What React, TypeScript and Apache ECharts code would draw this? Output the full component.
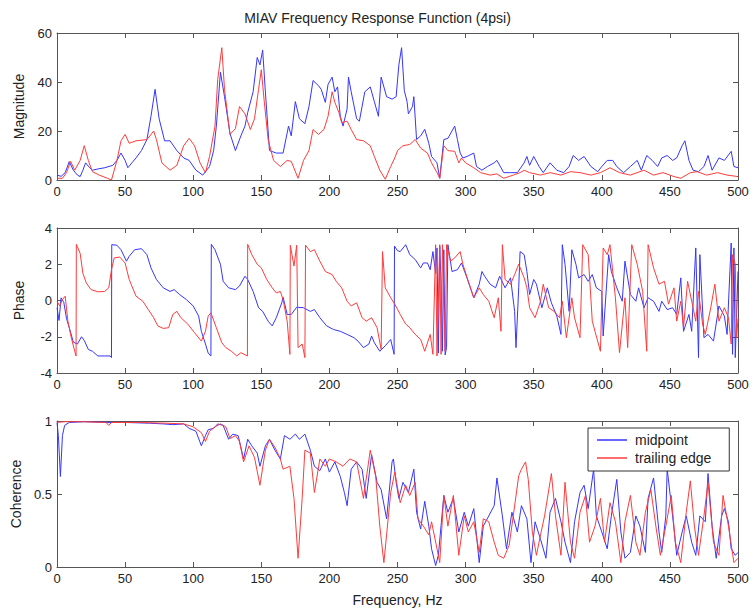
import React, { useEffect, useRef } from "react";
import * as echarts from "echarts";

const xTicks = [0, 50, 100, 150, 200, 250, 300, 350, 400, 450, 500];
const seriesNames = ["midpoint", "trailing edge"];

const magMid: number[][] = [[0,2],[3,1.5],[6,3],[9,7.5],[12,4],[15,2],[17,1.4],[19,4],[21,7],[24,5],[26,4],[30,4.5],[35,5],[41,6],[44,8],[47,11],[50,8],[52,5],[55,7],[58,9],[62,12],[66,16.5],[69,26],[72,37],[75,25],[79,16],[83,16],[88,12],[93,9],[97,8],[102,4],[107,2],[112,5.5],[115,12],[117,22],[120,44],[123,34],[127,19],[131,12],[135,18],[138,22],[140,27.5],[144,36],[147,50],[149,47],[151,53],[153,36],[156,12],[161,11],[166,11],[170,22],[172,18],[175,32],[178,25],[182,23],[185,30],[188,40.6],[192,38.5],[194,37],[197,31.7],[199,39],[202,42],[204,36],[206,38],[208,26],[210,22],[213,29],[214,42],[216,36],[220,25],[222,24],[226,36],[230,38],[233,32],[236,26],[238,42],[242,34],[246,33],[249,34],[251,47],[253,54],[255,36.5],[257,32],[258,27],[261,30],[262,34],[264,16.5],[267,18],[270,20.7],[273,15],[275,9.6],[279,7],[281,0.7],[284,16.5],[287,17],[292,22],[294,16.5],[296,11],[298,9],[301,9.6],[306,11],[308,5.5],[312,4],[316,5.5],[321,7],[323,8],[328,3],[333,3],[338,3],[343,7],[345,9.6],[347,6],[350,9.6],[354,5.5],[357,3],[362,7],[367,4],[372,3],[376,5.5],[379,10],[383,8],[387,9.6],[392,5.5],[397,3.4],[400,5.5],[404,8],[408,8],[411,5.5],[416,3],[421,5.5],[426,8],[429,4],[433,10],[437,8],[441,5.5],[444,9],[448,10],[452,8],[455,9],[459,14],[461,16],[464,8],[467,4],[471,3.4],[475,5.5],[478,10],[481,4],[486,9],[490,8],[495,11.7],[497,5.5],[500,5]];

const magTrail: number[][] = [[0,0.7],[4,0.7],[7,3],[10,7.6],[13,4],[17,8],[20,14],[23,8],[26,3.4],[31,2],[37,0.7],[40,0],[44,8],[47,16],[50,18.6],[53,15],[58,16],[66,16.5],[71,20],[73,16.5],[77,7],[83,4],[88,6],[93,14],[97,17],[101,14],[105,7],[109,3],[112,9.6],[116,22],[118,41],[121,54],[123,37],[127,18.6],[131,21],[134,30],[138,27],[142,20.6],[145,25],[148,37],[150,45],[152,33],[155,16.5],[159,8],[164,5.5],[169,8],[172,7.6],[177,0.7],[181,8],[185,12],[188,20.6],[192,18.6],[196,20.6],[199,26],[202,36],[204,31.7],[207,27.5],[209,23.4],[213,24],[216,20.6],[220,16.5],[225,16],[230,14],[233,9.6],[237,4],[241,0.3],[245,5.5],[248,9],[250,12],[254,14],[259,14.5],[263,16.5],[267,13],[272,11],[275,7],[279,3],[281,0.7],[284,14],[287,12],[292,11.7],[295,7],[297,9],[300,7],[306,5],[311,3],[318,2],[323,2.5],[328,0.7],[335,2],[340,3],[343,4],[347,3],[355,2],[362,3],[370,2],[377,3.4],[384,3],[392,2],[399,3],[406,5],[413,3],[421,2],[431,4],[438,2],[445,3],[453,1.4],[458,0.7],[465,3],[470,3.4],[477,2],[485,3],[492,2],[500,1.4]];

const phaseMid: number[][] = [[0,-0.4],[1.5,-1.1],[3,0.15],[5,-0.1],[7,-1],[9,-1.5],[12,-2.3],[15,-2.4],[18,-2],[20,-2.2],[23,-2.7],[26,-2.8],[30,-3.06],[35,-3.06],[39,-3.06],[40,-3.15],[40.2,3.08],[44,3.05],[47,2.8],[51,2.17],[53,2.44],[57,2.8],[62,2.86],[66,2.53],[69,1.8],[73,1.16],[78,0.7],[83,0.5],[86,0.6],[90,0.33],[95,0.05],[100,-0.3],[104,-0.86],[106,-1.7],[109,-2.4],[111,-2.9],[113,-3.06],[113.3,3.1],[116,2.8],[120,2.0],[122,1.06],[126,0.7],[131,0.6],[134,0.8],[138,1.34],[140,1.16],[144,0.5],[148,-0.4],[151,-0.6],[155,-1.14],[158,-1.4],[161,-0.95],[165,-0.13],[166,0.18],[169,-0.77],[172,-0.77],[176,-0.37],[181,-0.4],[186,-0.6],[189,-0.5],[193,-0.95],[198,-1.4],[203,-1.6],[208,-1.7],[213,-1.87],[218,-2.05],[221,-2.24],[225,-2.6],[229,-2.4],[231,-1.96],[233,-2.33],[237,-2.8],[241,-2.5],[245,-2.15],[247.5,-2.97],[247.8,3.0],[250,2.75],[252,2.7],[256,3.08],[259,2.53],[263,2.26],[267,1.8],[269,2.07],[272,2.07],[274,1.7],[276,2.7],[278,1.5],[279,2.9],[280,-2.9],[281,3],[282,1.0],[283,-2.8],[284,2.8],[285,-3.0],[286,-2.6],[287,3.08],[290,1.6],[294,1.7],[297,2.07],[301,1.25],[306,0.15],[310,0.9],[312,1.6],[314,1.34],[318,0.9],[322,0.7],[325,1.34],[329,0.7],[333,1.25],[336,-0.6],[337,-2.6],[339,0.7],[340,2.7],[343,2.53],[345,1.6],[347,0.33],[350,1.16],[352,0.9],[356,-0.4],[360,0.7],[363,-0.13],[367,-0.86],[370,-1.87],[371,3.08],[373,2.0],[376,-0.6],[378,2.8],[381,2.0],[383,1.25],[387,1.43],[390,1.06],[393,1.43],[396,0.7],[400,0.5],[401,-1.96],[405,2.53],[407,1.6],[411,0.7],[415,-0.04],[417,2.17],[421,0.33],[425,-0.04],[427,0.7],[431,-0.4],[434,0.15],[438,-0.04],[442,-0.6],[444,-0.04],[448,-0.5],[452,-0.4],[455,-0.77],[458,1.25],[460,-1.7],[464,-0.77],[466,-1.7],[469,2.9],[471,-3.15],[472,2.53],[475,-2.05],[478,-1.87],[482,-2.24],[486,-0.3],[490,-0.86],[492,-1.87],[495,3.17],[496,-2.97],[497,2.9],[498,-3.15],[500,1.6]];

const phaseTrail: number[][] = [[0,-0.04],[2,-0.3],[4,0.05],[6,0.24],[8,-1.14],[10.5,-2.05],[13,-2.8],[14,-3.06],[14.2,3.1],[17,2.6],[19,1.5],[21.5,0.97],[25,0.6],[30,0.48],[35,0.5],[38,0.7],[40,1.7],[42,2.35],[46,2.4],[50,2.07],[53,1.16],[58,0.24],[63,-0.04],[67,-0.5],[71,-0.95],[74,-1.4],[78,-1.54],[82,-1.5],[85,-0.77],[88,-0.6],[91,-0.95],[96,-1.3],[101,-1.78],[106,-2.24],[109,-1.7],[111,-0.86],[113,-0.68],[117,-1.5],[121,-2.33],[124,-2.6],[128,-2.8],[132,-3.06],[135,-2.88],[139.8,-3.06],[140,3.1],[143,2.53],[147,2.0],[150,1.8],[154,1.16],[158,0.7],[161,0.42],[164,0.5],[166,0.05],[169,-1.14],[171,-2.97],[171.3,3.05],[174,1.9],[176,3.05],[177,-2.6],[180,-2.4],[182,-3.15],[182.5,3.05],[186,2.7],[189,2.8],[193,2.17],[197,1.6],[202,1.43],[205,1.06],[209,0.7],[213,-0.04],[216,-0.3],[220,-0.13],[224,-0.95],[227,-1.14],[231,-0.95],[235,-1.5],[238,-2.7],[239,2.7],[241,0.7],[245,0.15],[248,-0.2],[252,-0.77],[256,-1.3],[259,-1.5],[263,-1.87],[267,-2.15],[270,-2.8],[274,-1.87],[276,-2.97],[278,3.08],[279,-3.06],[281,3.08],[282,-2.97],[283,3.08],[285,-2.8],[286,3.08],[289,2.17],[292,2.35],[296,2.7],[298,2.0],[302,1.06],[306,0.15],[310,0.7],[313,0.33],[317,-0.04],[321,-0.95],[324,0.15],[326,-1.7],[327,3.08],[329,1.16],[333,0.9],[336,1.43],[339,2.0],[343,1.25],[345,0.7],[347,-0.4],[351,-0.95],[355,-0.04],[357,0.9],[361,-0.4],[365,-0.6],[369,-0.95],[371,-0.04],[374,-2.05],[378,0.15],[380,-0.95],[384,-2.05],[386,3.08],[390,2.53],[393,-1.14],[395,-1.7],[399,-2.8],[401,2.9],[404,2.53],[406,3.08],[410,0.15],[413,-2.88],[417,0.15],[419,-2.6],[422,3.08],[426,2.0],[430,0.5],[433,-2.8],[434,3.08],[438,1.8],[442,0.9],[446,1.06],[449,-0.2],[453,0.7],[455,-1.14],[458,-0.04],[460,-1.5],[463,1.06],[466,-0.04],[469,-1.14],[471,0.5],[474,-1.3],[476,-1.87],[480,-0.4],[483,0.9],[486,-1.14],[490,-0.4],[493,-0.95],[495,-2.4],[496,2.53],[498,2.0],[499,-2.05],[500,-1.0]];

const cohMid: number[][] = [[0,0.99],[1,0.9],[2.5,0.62],[4,0.9],[5.6,0.97],[9,0.99],[20,0.995],[39,0.99],[50,0.99],[68,0.985],[78,0.98],[85,0.975],[93,0.98],[97,0.95],[102,0.93],[106,0.83],[109,0.9],[111,0.94],[115,0.95],[118,0.98],[122,0.97],[126,0.875],[129,0.91],[133,0.9],[137,0.74],[140,0.875],[143,0.83],[147,0.78],[149,0.69],[153,0.83],[156,0.875],[160,0.8],[164,0.74],[167,0.9],[171,0.875],[175,0.91],[178,0.875],[182,0.91],[186,0.8],[189,0.69],[193,0.66],[197,0.74],[200,0.65],[204,0.72],[208,0.62],[211,0.51],[213,0.42],[216,0.67],[220,0.72],[224,0.67],[227,0.47],[231,0.77],[235,0.58],[238,0.53],[242,0.33],[246,0.72],[247,0.74],[249,0.58],[251,0.47],[254,0.58],[258,0.51],[262,0.67],[264,0.375],[267,0.26],[270,0.45],[273,0.28],[275,0.125],[278,0.01],[280,0.08],[284,0.49],[287,0.375],[291,0.47],[295,0.24],[299,0.375],[302,0.28],[306,0.4],[310,0.03],[313,0.28],[317,0.35],[321,0.42],[323,0.61],[327,0.35],[330,0.125],[334,0.375],[338,0.24],[341,0.42],[345,0.33],[348,0.03],[351,0.31],[355,0.19],[359,0.06],[362,0.375],[366,0.47],[370,0.31],[373,0.17],[377,0.03],[380,0.31],[384,0.51],[387,0.56],[390,0.4],[394,0.67],[396,0.35],[400,0.24],[404,0.125],[407,0.35],[411,0.6],[414,0.24],[417,0.06],[421,0.1],[425,0.35],[428,0.28],[432,0.1],[434,0.47],[438,0.61],[442,0.24],[444,0.1],[447,0.35],[448,0.67],[452,0.35],[455,0.08],[459,0.24],[462,0.35],[466,0.17],[469,0.08],[472,0.35],[476,0.31],[478,0.64],[481,0.28],[484,0.06],[488,0.35],[490,0.4],[493,0.31],[495,0.125],[498,0.08],[500,0.1]];

const cohTrail: number[][] = [[0,0.99],[5,0.995],[20,0.995],[36,0.99],[38,0.97],[40,0.99],[60,0.99],[80,0.985],[93,0.98],[100,0.96],[106,0.92],[109,0.86],[112,0.93],[116,0.96],[120,0.98],[124,0.96],[127,0.88],[131,0.9],[134,0.86],[137,0.72],[141,0.83],[145,0.75],[149,0.56],[153,0.8],[156,0.875],[160,0.82],[164,0.74],[166,0.67],[171,0.69],[174,0.47],[177,0.06],[180,0.47],[182,0.8],[186,0.78],[189,0.51],[193,0.74],[197,0.69],[200,0.74],[205,0.72],[210,0.69],[215,0.74],[220,0.72],[225,0.47],[230,0.8],[234,0.62],[237,0.28],[240,0.03],[242,0.22],[245,0.51],[248,0.65],[252,0.44],[256,0.56],[259,0.49],[263,0.58],[265,0.33],[269,0.28],[273,0.22],[275,0.31],[279,0.125],[281,0.03],[284,0.49],[287,0.28],[291,0.49],[295,0.08],[299,0.35],[302,0.24],[306,0.31],[310,0.1],[313,0.33],[317,0.31],[321,0.17],[324,0.08],[328,0.06],[332,0.15],[335,0.35],[339,0.625],[341,0.67],[344,0.72],[346,0.6],[349,0.24],[352,0.08],[355,0.22],[358,0.35],[363,0.64],[366,0.35],[370,0.08],[373,0.58],[377,0.17],[380,0.06],[384,0.375],[388,0.49],[391,0.17],[395,0.28],[399,0.47],[402,0.17],[406,0.44],[410,0.31],[414,0.03],[417,0.31],[421,0.49],[425,0.17],[428,0.08],[432,0.375],[436,0.53],[440,0.26],[443,0.08],[447,0.28],[451,0.49],[454,0.17],[458,0.03],[462,0.375],[465,0.59],[468,0.28],[471,0.08],[475,0.35],[478,0.58],[482,0.17],[486,0.08],[489,0.49],[493,0.28],[497,0.03],[500,0.06]];

const panels = [
  { name: "Magnitude", min: 0, max: 60, interval: 20, mid: magMid, trail: magTrail },
  { name: "Phase", min: -4, max: 4, interval: 2, mid: phaseMid, trail: phaseTrail },
  { name: "Coherence", min: 0, max: 1, interval: 0.5, mid: cohMid, trail: cohTrail },
];

const FONT = "Liberation Sans";
const AXC = "#555";
const TXT = "#222";
const BLUE = "#3535ff";
const RED = "#ff3b3b";

export default function App() {
  const ref = useRef<HTMLDivElement>(null);
  useEffect(() => {
    if (!ref.current) return;
    const chart = echarts.init(ref.current, null, { renderer: "svg" });
    const gridPos = [
      { left: 57, top: 33, width: 681, height: 147 },
      { left: 57, top: 228, width: 681, height: 145 },
      { left: 57, top: 421, width: 681, height: 146 },
    ];
    const xAxis: any[] = [];
    const yAxis: any[] = [];
    const series: any[] = [];
    panels.forEach((p, i) => {
      const tick = { show: true, inside: true, length: 5, lineStyle: { color: AXC } };
      xAxis.push({
        type: "value", gridIndex: i, min: xTicks[0], max: xTicks[xTicks.length - 1], interval: 50,
        position: "bottom",
        axisLine: { show: true, onZero: false, lineStyle: { color: AXC } },
        axisTick: tick, splitLine: { show: false },
        axisLabel: { color: TXT, fontFamily: FONT, fontSize: 13, margin: 5 },
        name: i === 2 ? "Frequency, Hz" : "", nameLocation: "middle", nameGap: 26,
        nameTextStyle: { color: TXT, fontFamily: FONT, fontSize: 14 },
      });
      xAxis.push({
        type: "value", gridIndex: i, min: 0, max: 500, interval: 50, position: "top",
        axisLine: { show: true, onZero: false, lineStyle: { color: AXC } },
        axisTick: tick, axisLabel: { show: false }, splitLine: { show: false },
      });
      yAxis.push({
        type: "value", gridIndex: i, min: p.min, max: p.max, interval: p.interval, position: "left",
        axisLine: { show: true, onZero: false, lineStyle: { color: AXC } },
        axisTick: tick, splitLine: { show: false },
        axisLabel: { color: TXT, fontFamily: FONT, fontSize: 13, margin: 5 },
        name: p.name, nameLocation: "middle", nameGap: 31,
        nameTextStyle: { color: TXT, fontFamily: FONT, fontSize: 14 },
      });
      yAxis.push({
        type: "value", gridIndex: i, min: p.min, max: p.max, interval: p.interval, position: "right",
        axisLine: { show: true, onZero: false, lineStyle: { color: AXC } },
        axisTick: tick, axisLabel: { show: false }, splitLine: { show: false },
      });
      series.push({
        name: seriesNames[0], type: "line", xAxisIndex: i * 2, yAxisIndex: i * 2,
        data: p.mid, symbol: "none", lineStyle: { color: BLUE, width: 1 }, itemStyle: { color: BLUE },
      });
      series.push({
        name: seriesNames[1], type: "line", xAxisIndex: i * 2, yAxisIndex: i * 2,
        data: p.trail, symbol: "none", lineStyle: { color: RED, width: 1 }, itemStyle: { color: RED },
      });
    });
    chart.setOption({
      animation: false,
      backgroundColor: "#fff",
      title: {
        text: "MIAV Frequency Response Function (4psi)", left: "center", top: 6,
        textStyle: { color: TXT, fontFamily: FONT, fontSize: 14, fontWeight: "normal" },
      },
      legend: {
        data: seriesNames.map((n) => ({ name: n, icon: "rect" })),
        orient: "vertical", left: 588, top: 428,
        backgroundColor: "#fff", borderColor: "#333", borderWidth: 1,
        padding: [5, 18, 6, 9], itemGap: 4, itemWidth: 30, itemHeight: 1.5,
        textStyle: { color: TXT, fontFamily: FONT, fontSize: 14, padding: [0, 0, 0, 3] },
      },
      grid: gridPos,
      xAxis, yAxis, series,
    });
    return () => chart.dispose();
  }, []);
  return <div ref={ref} style={{ position: "fixed", left: 0, top: 0, width: 755, height: 612 }} />;
}
